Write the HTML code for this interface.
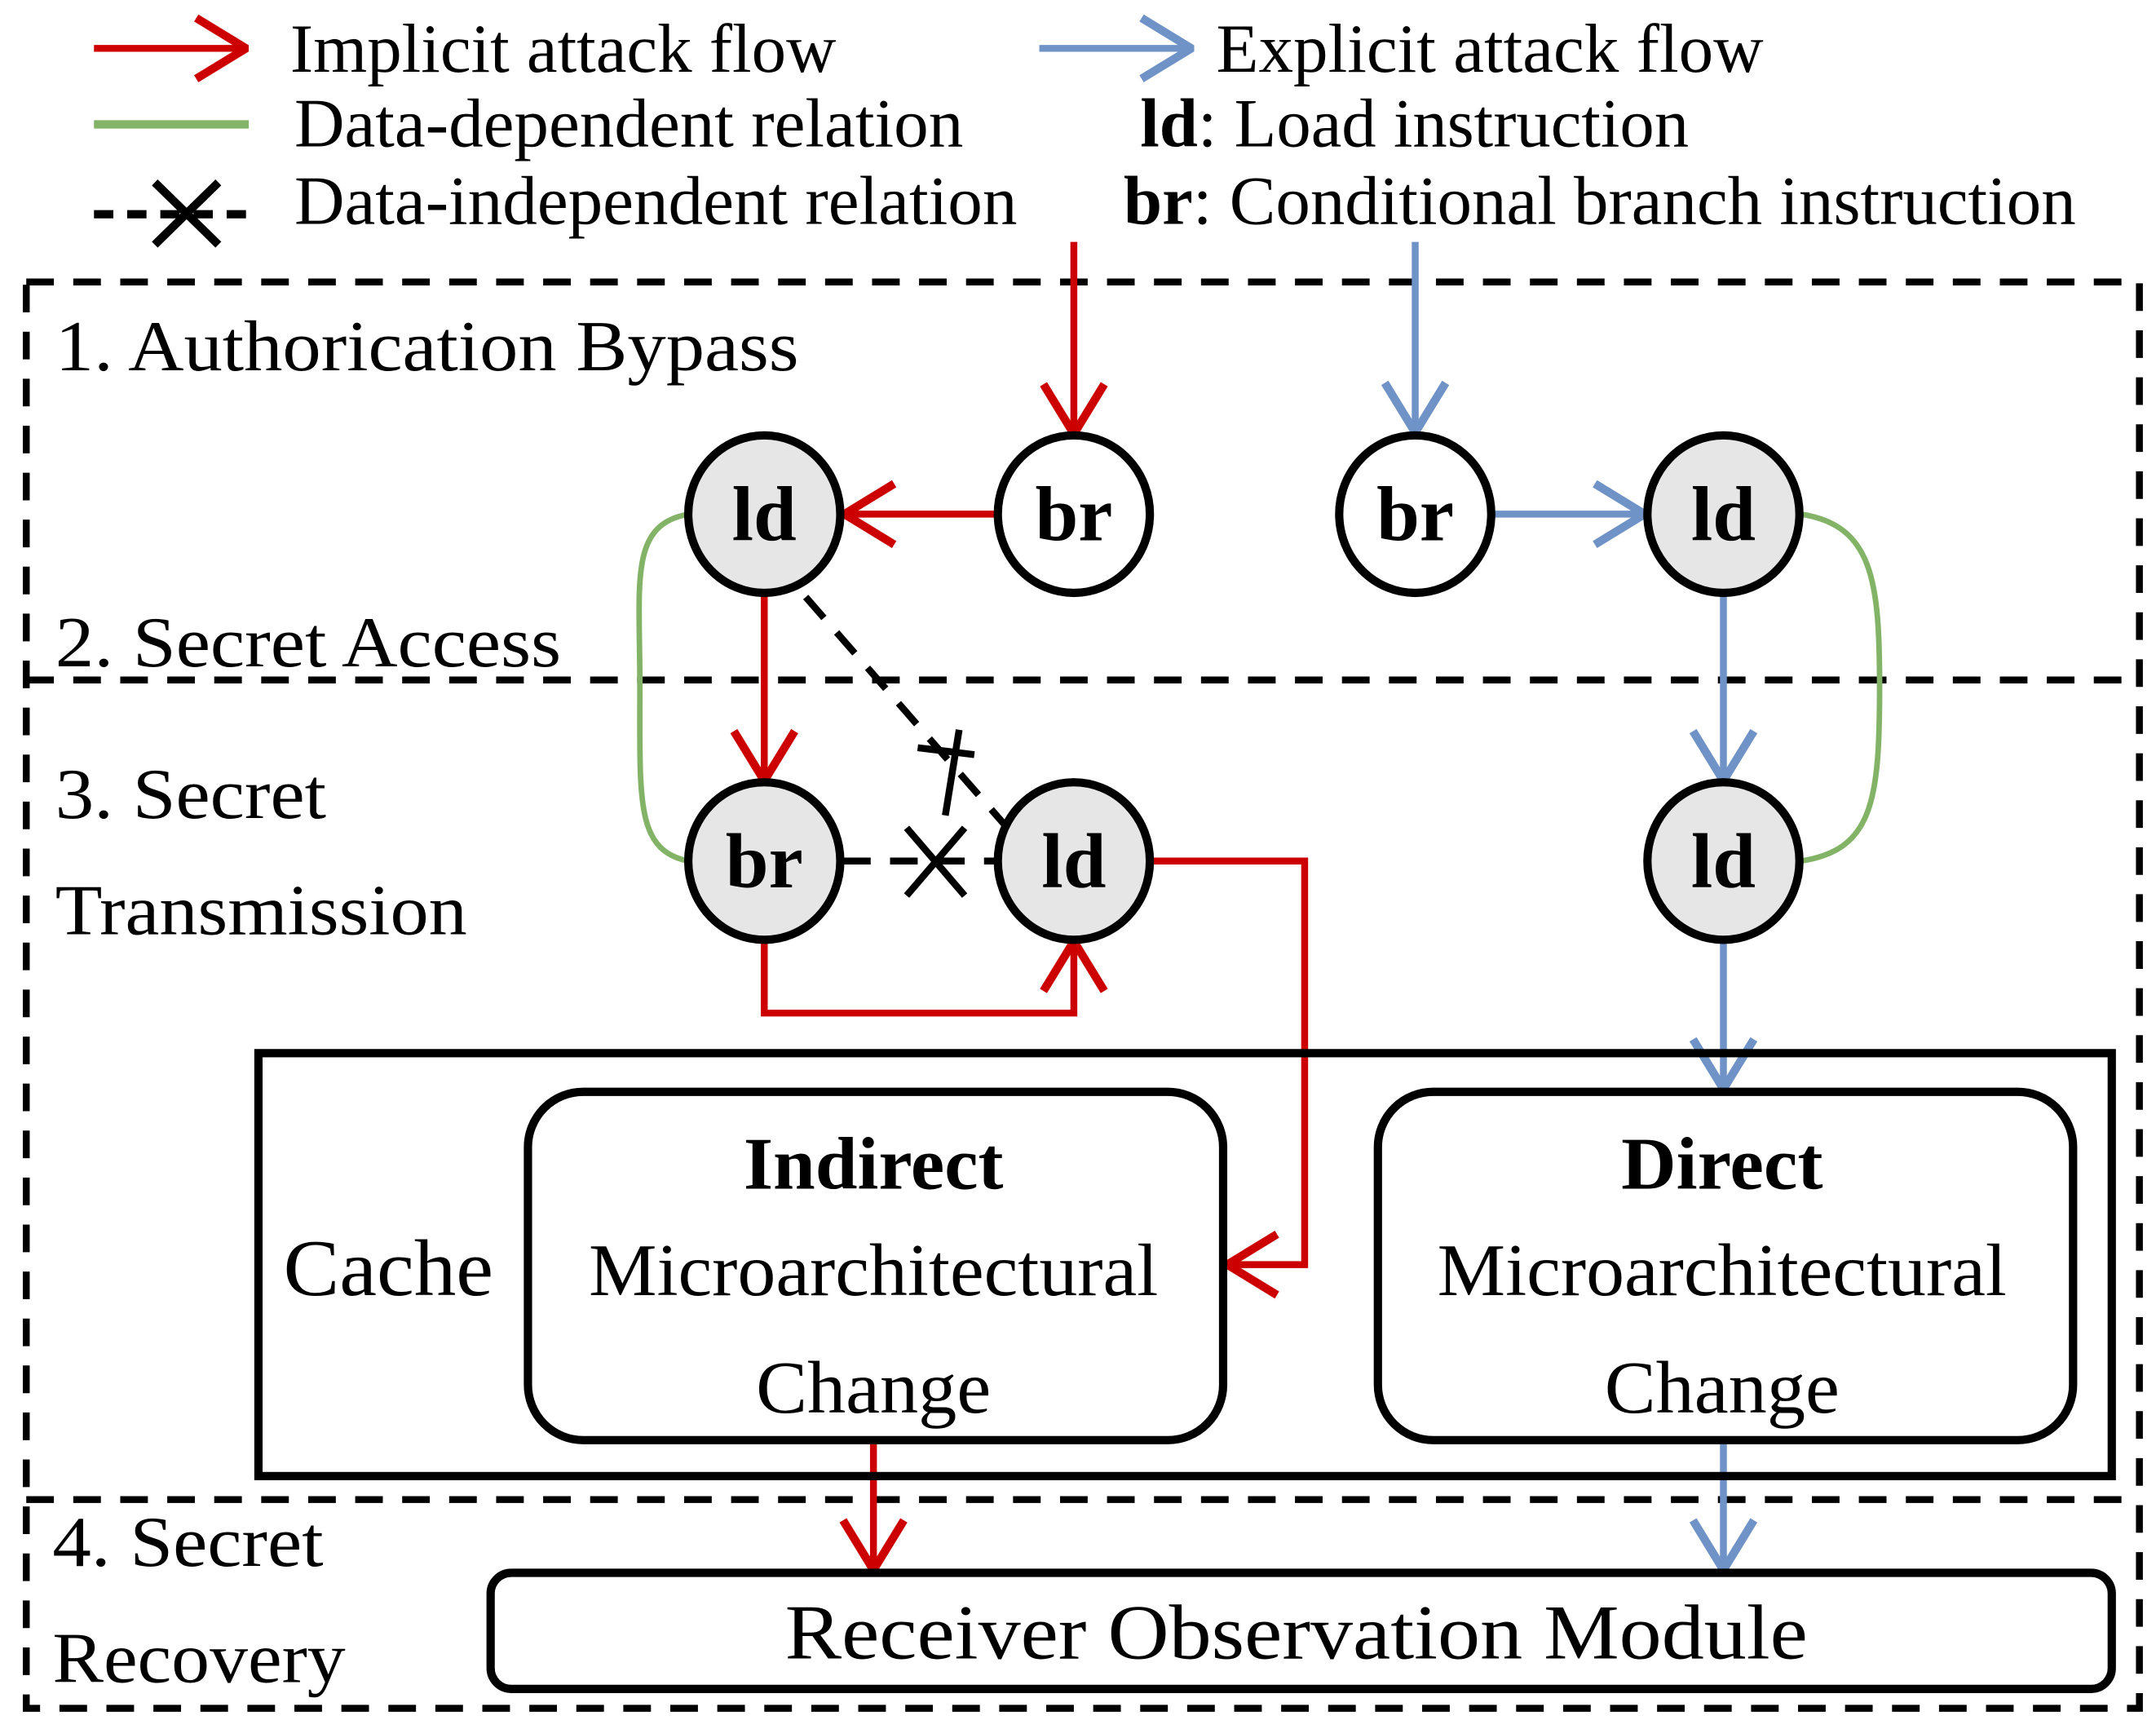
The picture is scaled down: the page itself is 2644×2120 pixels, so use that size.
<!DOCTYPE html>
<html><head><meta charset="utf-8">
<style>html,body{margin:0;padding:0;background:#fff}svg{display:block}</style>
</head><body>
<svg width="2644" height="2120" viewBox="0 0 1560 1251" preserveAspectRatio="none" xmlns="http://www.w3.org/2000/svg" font-family="'Liberation Serif', serif">
<defs>
<marker id="r" viewBox="0 0 40 50" refX="38" refY="25" markerWidth="40" markerHeight="50" markerUnits="userSpaceOnUse" orient="auto"><path d="M2,3 L38,25 L2,47" fill="none" stroke="#cc0000" stroke-width="6"/></marker>
<marker id="b" viewBox="0 0 40 50" refX="38" refY="25" markerWidth="40" markerHeight="50" markerUnits="userSpaceOnUse" orient="auto"><path d="M2,3 L38,25 L2,47" fill="none" stroke="#6f93c6" stroke-width="6"/></marker>
</defs>
<g fill="#000">
<line x1="68" y1="35" x2="178" y2="35" stroke="#cc0000" stroke-width="5" marker-end="url(#r)"/>
<text x="210" y="52" font-size="50" textLength="395" lengthAdjust="spacingAndGlyphs">Implicit attack flow</text>
<line x1="752" y1="35" x2="862" y2="35" stroke="#6f93c6" stroke-width="5" marker-end="url(#b)"/>
<text x="880" y="52" font-size="50" textLength="396" lengthAdjust="spacingAndGlyphs">Explicit attack flow</text>
<line x1="68" y1="90" x2="180" y2="90" stroke="#82b366" stroke-width="6"/>
<text x="213" y="106" font-size="50" textLength="484" lengthAdjust="spacingAndGlyphs">Data-dependent relation</text>
<text x="825" y="106" font-size="50" textLength="397" lengthAdjust="spacingAndGlyphs"><tspan font-weight="bold">ld</tspan>: Load instruction</text>
<line x1="68" y1="155" x2="180" y2="155" stroke="#000" stroke-width="6" stroke-dasharray="14,10"/>
<path d="M112,132 L158,177 M158,132 L112,177" stroke="#000" stroke-width="6"/>
<text x="213" y="162" font-size="50" textLength="523" lengthAdjust="spacingAndGlyphs">Data-independent relation</text>
<text x="813" y="162" font-size="50" textLength="689" lengthAdjust="spacingAndGlyphs"><tspan font-weight="bold">br</tspan>: Conditional branch instruction</text>

<g fill="none" stroke="#000" stroke-width="5" stroke-dasharray="20,14">
<rect x="19" y="204" width="1529" height="1032"/>
<line x1="19" y1="492" x2="1548" y2="492"/>
<line x1="19" y1="1085" x2="1548" y2="1085"/>
</g>
<text x="40" y="268" font-size="52" textLength="538" lengthAdjust="spacingAndGlyphs">1. Authorication Bypass</text>
<text x="40" y="482" font-size="52" textLength="366" lengthAdjust="spacingAndGlyphs">2. Secret Access</text>
<text x="40" y="592" font-size="52" textLength="196" lengthAdjust="spacingAndGlyphs">3. Secret</text>
<text x="40" y="676" font-size="52" textLength="298" lengthAdjust="spacingAndGlyphs">Transmission</text>
<text x="38" y="1133" font-size="52" textLength="196" lengthAdjust="spacingAndGlyphs">4. Secret</text>
<text x="38" y="1217" font-size="52" textLength="212" lengthAdjust="spacingAndGlyphs">Recovery</text>

<path d="M498,372 C455,380 463,420 463,497 C463,580 460,615 498,623" fill="none" stroke="#82b366" stroke-width="4"/>
<path d="M1303,372 C1355,380 1360,420 1360,497 C1360,580 1355,615 1303,623" fill="none" stroke="#82b366" stroke-width="4"/>

<line x1="583" y1="432" x2="728" y2="598" stroke="#000" stroke-width="5" stroke-dasharray="20,14"/>
<path d="M694,528 L684,590 M664,541 L705,546" stroke="#000" stroke-width="5"/>
<line x1="610" y1="623" x2="722" y2="623" stroke="#000" stroke-width="5" stroke-dasharray="20,14"/>
<path d="M656,599 L698,648 M698,599 L656,648" stroke="#000" stroke-width="5"/>

<g fill="none" stroke="#cc0000" stroke-width="5">
<line x1="777" y1="175" x2="777" y2="314" marker-end="url(#r)"/>
<line x1="720" y1="372" x2="611" y2="372" marker-end="url(#r)"/>
<line x1="553" y1="430" x2="553" y2="565" marker-end="url(#r)"/>
<polyline points="553,680 553,733 777,733 777,681" marker-end="url(#r)"/>
<polyline points="833,623 944,623 944,915 888,915" marker-end="url(#r)"/>
<line x1="632" y1="1045" x2="632" y2="1136" marker-end="url(#r)"/>
</g>
<g fill="none" stroke="#6f93c6" stroke-width="5">
<line x1="1024" y1="175" x2="1024" y2="313" marker-end="url(#b)"/>
<line x1="1081" y1="372" x2="1190" y2="372" marker-end="url(#b)"/>
<line x1="1247" y1="430" x2="1247" y2="565" marker-end="url(#b)"/>
<line x1="1247" y1="680" x2="1247" y2="788" marker-end="url(#b)"/>
<line x1="1247" y1="1045" x2="1247" y2="1136" marker-end="url(#b)"/>
</g>

<g stroke="#000" stroke-width="6">
<ellipse cx="553" cy="372" rx="55" ry="57" fill="#e6e6e6"/>
<ellipse cx="777" cy="372" rx="55" ry="57" fill="#fff"/>
<ellipse cx="1024" cy="372" rx="55" ry="57" fill="#fff"/>
<ellipse cx="1247" cy="372" rx="55" ry="57" fill="#e6e6e6"/>
<ellipse cx="553" cy="623" rx="55" ry="57" fill="#e6e6e6"/>
<ellipse cx="777" cy="623" rx="55" ry="57" fill="#e6e6e6"/>
<ellipse cx="1247" cy="623" rx="55" ry="57" fill="#e6e6e6"/>
</g>
<g font-size="56" font-weight="bold" text-anchor="middle">
<text x="553" y="391">ld</text>
<text x="777" y="391">br</text>
<text x="1024" y="391">br</text>
<text x="1247" y="391">ld</text>
<text x="553" y="642">br</text>
<text x="777" y="642">ld</text>
<text x="1247" y="642">ld</text>
</g>

<rect x="187" y="762" width="1341" height="306" fill="none" stroke="#000" stroke-width="6"/>
<text x="205" y="937" font-size="58" textLength="152" lengthAdjust="spacingAndGlyphs">Cache</text>
<rect x="382" y="790" width="503" height="252" rx="40" fill="none" stroke="#000" stroke-width="6"/>
<rect x="997" y="790" width="503" height="252" rx="40" fill="none" stroke="#000" stroke-width="6"/>
<g text-anchor="middle" font-size="54">
<text x="632" y="860" font-weight="bold" textLength="188" lengthAdjust="spacingAndGlyphs">Indirect</text>
<text x="632" y="937" textLength="412" lengthAdjust="spacingAndGlyphs">Microarchitectural</text>
<text x="632" y="1022" textLength="170" lengthAdjust="spacingAndGlyphs">Change</text>
<text x="1246" y="860" font-weight="bold" textLength="146" lengthAdjust="spacingAndGlyphs">Direct</text>
<text x="1246" y="937" textLength="412" lengthAdjust="spacingAndGlyphs">Microarchitectural</text>
<text x="1246" y="1022" textLength="170" lengthAdjust="spacingAndGlyphs">Change</text>
</g>
<rect x="355" y="1138" width="1173" height="84" rx="15" fill="none" stroke="#000" stroke-width="6"/>
<text x="938" y="1200" font-size="56" text-anchor="middle" textLength="740" lengthAdjust="spacingAndGlyphs">Receiver Observation Module</text>
</g>
</svg>
</body></html>
